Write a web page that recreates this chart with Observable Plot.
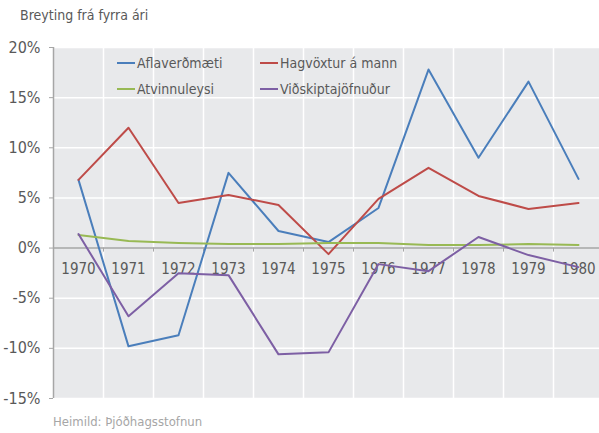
<!DOCTYPE html>
<html><head><meta charset="utf-8">
<script src="https://cdn.jsdelivr.net/npm/d3@7"></script>
<script src="https://cdn.jsdelivr.net/npm/@observablehq/plot@0.6"></script>
<style>
body{margin:0;background:#fff;font-family:"DejaVu Sans Condensed",sans-serif;}
#wrap{position:relative;width:599px;height:433px;overflow:hidden;}
#title{position:absolute;left:20px;top:7px;font-size:14px;color:#595959;}
#caption{position:absolute;left:53px;top:414px;font-size:13px;color:#a6a6a6;}
.leg{position:absolute;font-size:14px;color:#595959;display:flex;align-items:center;white-space:nowrap;}
.leg span.sw{display:inline-block;width:18px;height:2px;margin-right:2px;}
</style></head>
<body><div id="wrap"><div id="title">Breyting frá fyrra ári</div><div id="chart"></div><div id="caption">Heimild: Þjóðhagsstofnun</div></div>
<script>
const years = [1970,1971,1972,1973,1974,1975,1976,1977,1978,1979,1980];
const seriesNames = ["Aflaverðmæti","Hagvöxtur á mann","Atvinnuleysi","Viðskiptajöfnuður"];
const colors = ["#4a7ebb","#be4b48","#98b954","#7d5fa4"];
const aflaverdmaeti = [6.8,-9.8,-8.7,7.5,1.7,0.6,4.0,17.8,9.0,16.6,6.9];
const hagvoxtur = [6.8,12.0,4.5,5.3,4.3,-0.6,4.9,8.0,5.2,3.9,4.5];
const atvinnuleysi = [1.3,0.7,0.5,0.4,0.4,0.5,0.5,0.3,0.3,0.4,0.3];
const vidskiptajofnudur = [1.4,-6.8,-2.5,-2.7,-10.6,-10.4,-1.6,-2.3,1.1,-0.7,-1.9];
const yTicks = [-15,-10,-5,0,5,10,15,20];

const allSeries = [aflaverdmaeti,hagvoxtur,atvinnuleysi,vidskiptajofnudur];
const rows = [];
allSeries.forEach((vals,i)=>vals.forEach((v,j)=>rows.push({series:seriesNames[i],year:years[j],value:v})));
const bounds = [years[0]-0.5, ...years.map(y=>y+0.5)];

const chart = Plot.plot({
  width:599, height:433,
  marginTop:47, marginBottom:35, marginLeft:53, marginRight:-4,
  style:{fontFamily:'"DejaVu Sans Condensed",sans-serif', background:"transparent"},
  x:{domain:[years[0]-0.5, years[years.length-1]+0.5], axis:null},
  y:{domain:[-15,20], axis:null},
  color:{domain:seriesNames, range:colors},
  marks:[
    Plot.frame({fill:"#e8e9eb", stroke:null}),
    Plot.ruleY(yTicks.filter(d=>d!==0), {stroke:"white", strokeWidth:1.5}),
    Plot.ruleX(bounds.slice(1), {stroke:"white", strokeWidth:1.5}),
    Plot.ruleY([0], {stroke:"#a6a6a6", strokeWidth:1.5}),
    Plot.ruleX(bounds.slice(1), {y1:0, y2:-0.4, stroke:"#a6a6a6", strokeWidth:1}),
    Plot.ruleX([bounds[0]], {stroke:"#a6a6a6", strokeWidth:1.5}),
    Plot.axisY(yTicks, {tickSize:4, tickPadding:9, stroke:"#a6a6a6", fill:"#595959", fontSize:16, tickFormat:d=>d+"%", label:null}),
    Plot.text(years, {x:d=>d, y:0, dy:21, text:d=>String(d), fontSize:15, fill:"#595959"}),
    Plot.lineY(rows, {x:"year", y:"value", z:"series", stroke:"series", strokeWidth:2})
  ]
});
document.getElementById("chart").appendChild(chart);

const legPos = [[117,55],[260,55],[117,81],[260,81]];
seriesNames.forEach((n,i)=>{
  const d=document.createElement("div");
  d.className="leg";
  d.style.left=legPos[i][0]+"px"; d.style.top=legPos[i][1]+"px";
  d.innerHTML=`<span class="sw" style="background:${colors[i]}"></span>${n}`;
  document.getElementById("wrap").appendChild(d);
});
</script></body></html>
